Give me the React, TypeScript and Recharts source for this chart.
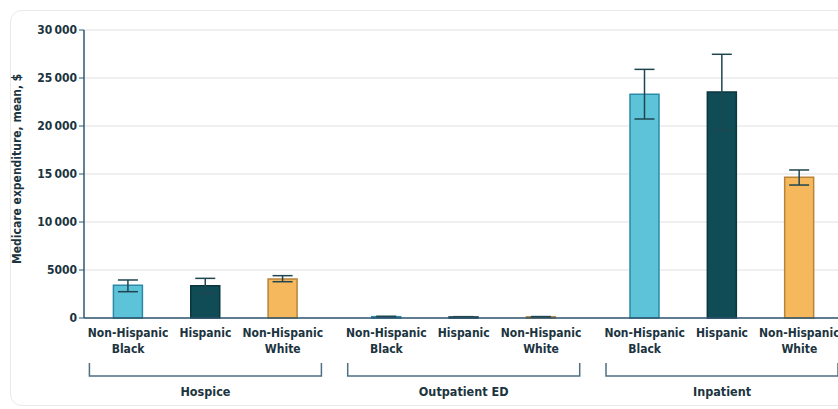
import {
  ComposedChart,
  Bar,
  Cell,
  ErrorBar,
  XAxis,
  YAxis,
  CartesianGrid,
} from "recharts";

const groups = ["Hospice", "Outpatient ED", "Inpatient"];
const races = ["Non-Hispanic Black", "Hispanic", "Non-Hispanic White"];

// mean spending and 95% CI bounds, per race, within each setting
const hospiceMean = [3400, 3370, 4060];
const hospiceLow = [2740, 2570, 3780];
const hospiceHigh = [3960, 4130, 4410];

const outpatientMean = [140, 110, 120];
const outpatientLow = [100, 80, 90];
const outpatientHigh = [180, 140, 150];

const inpatientMean = [23300, 23550, 14650];
const inpatientLow = [20730, 19580, 13850];
const inpatientHigh = [25900, 27470, 15420];

const yTicks = [0, 5000, 10000, 15000, 20000, 25000, 30000];

const FILLS = ["#5cc3d8", "#0f4c56", "#f5b85d"];
const STROKES = ["#2b8ba6", "#0a363d", "#b7843a"];
const INK = "#1b3440";
const AXIS = "#2f5670";
const FONT = "'DejaVu Sans Condensed', 'DejaVu Sans', sans-serif";

// groups are set a little further apart than bars inside a group
const GROUP_STEP = 3.34;
const X_DOMAIN: [number, number] = [-0.57, 9.18];
const CHART_W = 838;
const CHART_H = 409;
const PLOT_LEFT = 84;
const PX_PER_UNIT = (CHART_W - PLOT_LEFT) / (X_DOMAIN[1] - X_DOMAIN[0]);

const series = [
  { mean: hospiceMean, low: hospiceLow, high: hospiceHigh },
  { mean: outpatientMean, low: outpatientLow, high: outpatientHigh },
  { mean: inpatientMean, low: inpatientLow, high: inpatientHigh },
];

const rows = series.flatMap((s, g) =>
  races.map((race, r) => ({
    x: g * GROUP_STEP + r,
    group: groups[g],
    race,
    r,
    value: s.mean[r],
    err: [s.mean[r] - s.low[r], s.high[r] - s.mean[r]],
  }))
);

const fmtY = (v: number) =>
  v >= 10000 ? `${Math.floor(v / 1000)}\u2009${String(v % 1000).padStart(3, "0")}` : `${v}`;

function RaceTick(props: any) {
  const { x, y, payload } = props;
  const row = rows.find((d) => Math.abs(d.x - payload.value) < 1e-6);
  if (!row) return null;
  const words = row.race.startsWith("Non-Hispanic")
    ? ["Non-Hispanic", row.race.replace("Non-Hispanic ", "")]
    : [row.race];
  const half = 1.5 * PX_PER_UNIT;
  return (
    <g>
      {words.map((w, i) => (
        <text
          key={w}
          x={x}
          y={y + 11 + i * 16}
          textAnchor="middle"
          fontFamily={FONT}
          fontWeight={600}
          fontSize={12}
          fill={INK}
        >
          {w}
        </text>
      ))}
      {row.r === 1 && (
        <g>
          <path
            d={`M${x - half},${y + 37} V${y + 50} H${x + half} V${y + 37}`}
            fill="none"
            stroke="#4d6f80"
            strokeWidth={1.5}
          />
          <text
            x={x}
            y={y + 70}
            textAnchor="middle"
            fontFamily={FONT}
            fontWeight={600}
            fontSize={12.5}
            fill={INK}
          >
            {row.group}
          </text>
        </g>
      )}
    </g>
  );
}

export default function App() {
  return (
    <div
      style={{
        position: "absolute",
        left: 0,
        top: 0,
        width: CHART_W,
        height: CHART_H,
        background: "#ffffff",
        overflow: "hidden",
      }}
    >
      <div
        style={{
          position: "absolute",
          left: 10,
          top: 10,
          width: CHART_W + 20,
          height: 394,
          border: "1px solid #e9e9e9",
          borderRadius: 12,
        }}
      />
      <ComposedChart
        width={CHART_W}
        height={CHART_H}
        data={rows}
        margin={{ top: 30, right: 0, bottom: 0, left: 0 }}
        style={{ position: "absolute", left: 0, top: 0 }}
      >
        <CartesianGrid horizontal vertical={false} stroke="#e0e0e0" />
        <XAxis
          dataKey="x"
          type="number"
          scale="linear"
          domain={X_DOMAIN}
          ticks={rows.map((d) => d.x)}
          interval={0}
          tickLine={false}
          axisLine={{ stroke: AXIS, strokeWidth: 1.5 }}
          tick={<RaceTick />}
          height={91}
          allowDataOverflow
        />
        <YAxis
          domain={[0, 30000]}
          ticks={yTicks}
          interval={0}
          width={PLOT_LEFT}
          tickFormatter={fmtY}
          tickSize={5}
          tickLine={{ stroke: AXIS }}
          axisLine={{ stroke: AXIS, strokeWidth: 1.5 }}
          tick={{ fill: INK, fontSize: 12, fontFamily: FONT, fontWeight: 600 }}
          label={{
            value: "Medicare expenditure, mean, $",
            angle: -90,
            position: "insideLeft",
            dx: 12,
            dy: 90,
            fill: INK,
            fontSize: 12,
            fontFamily: FONT,
            fontWeight: 600,
          }}
        />
        <Bar dataKey="value" barSize={29} isAnimationActive={false}>
          {rows.map((d) => (
            <Cell
              key={`${d.group}-${d.race}`}
              fill={FILLS[d.r]}
              stroke={STROKES[d.r]}
              strokeWidth={1.5}
            />
          ))}
          <ErrorBar
            dataKey="err"
            width={10}
            stroke="#1f4650"
            strokeWidth={1.5}
            isAnimationActive={false}
          />
        </Bar>
      </ComposedChart>
    </div>
  );
}
